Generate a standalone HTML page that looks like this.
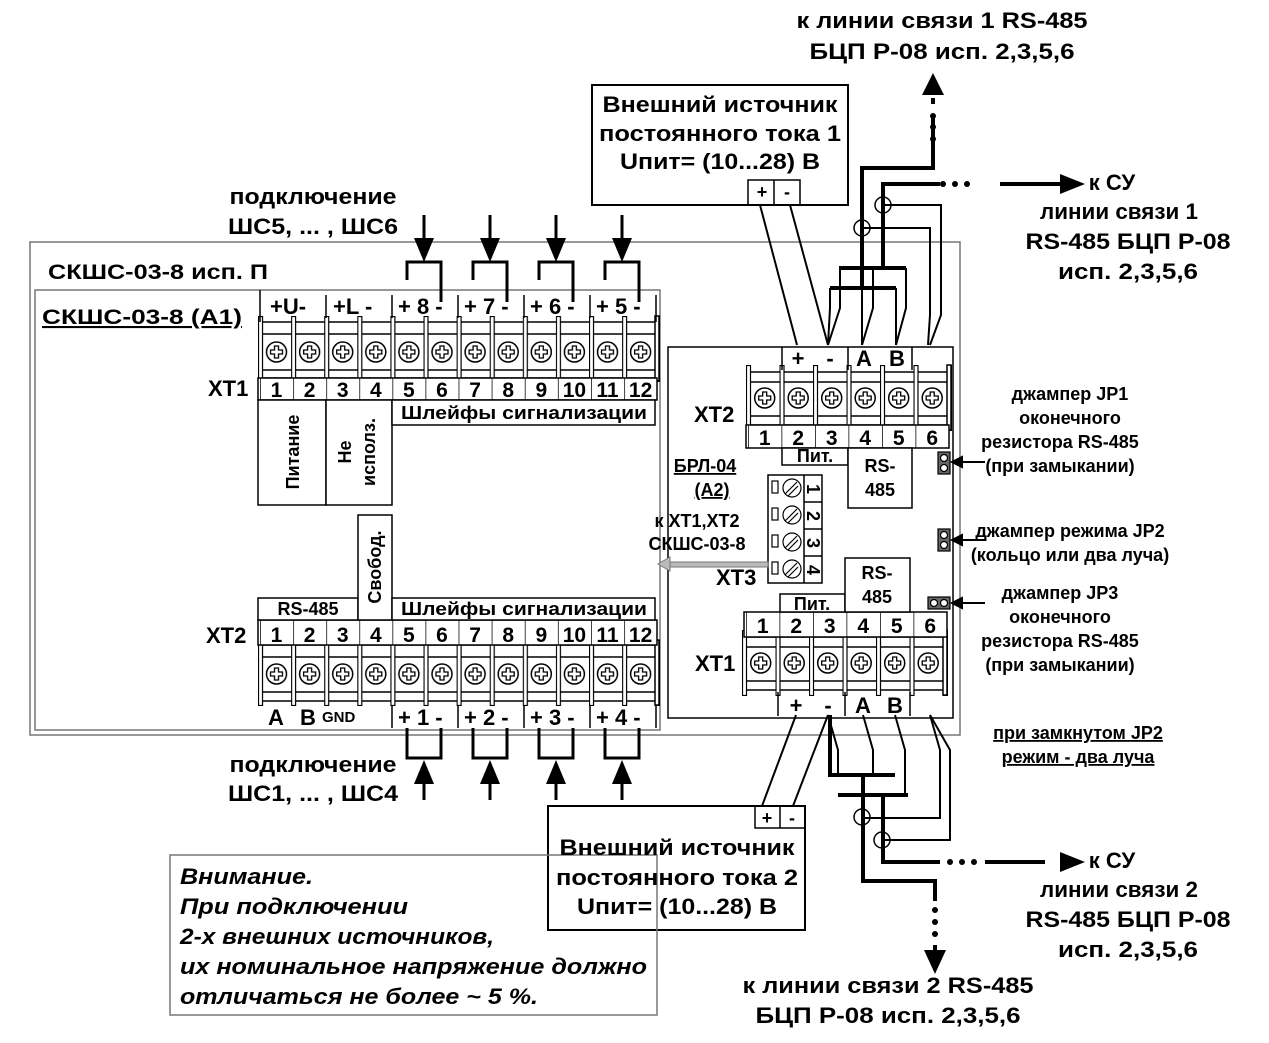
<!DOCTYPE html>
<html><head><meta charset="utf-8"><style>
body{margin:0;background:#fff}
svg{display:block}
text{font-family:"Liberation Sans",sans-serif;font-weight:bold;fill:#000}
</style></head><body>
<svg width="1269" height="1043" viewBox="0 0 1269 1043" xmlns="http://www.w3.org/2000/svg">
<defs>
<g id="scr"><circle r="10" fill="#fff" stroke="#000" stroke-width="1.5"/><path d="M-6,-2h4v-4h4v4h4v4h-4v4h-4v-4h-4z" fill="none" stroke="#000" stroke-width="1.3"/></g>
<pattern id="pA" patternUnits="userSpaceOnUse" x="258" y="316" width="33.1" height="66"><rect x="0.5" y="0.5" width="4" height="65" fill="#fff" stroke="#000" stroke-width="1.2"/><use href="#scr" x="18.5" y="36"/></pattern>
<pattern id="pB" patternUnits="userSpaceOnUse" x="258" y="640" width="33.1" height="66"><rect x="0.5" y="0.5" width="4" height="65" fill="#fff" stroke="#000" stroke-width="1.2"/><use href="#scr" x="18.5" y="34"/></pattern>
<pattern id="pC" patternUnits="userSpaceOnUse" x="746" y="365" width="33.5" height="66"><rect x="0.5" y="0.5" width="4" height="65" fill="#fff" stroke="#000" stroke-width="1.2"/><use href="#scr" x="18.7" y="33"/></pattern>
<pattern id="pD" patternUnits="userSpaceOnUse" x="742" y="630" width="33.5" height="66"><rect x="0.5" y="0.5" width="4" height="65" fill="#fff" stroke="#000" stroke-width="1.2"/><use href="#scr" x="18.7" y="33"/></pattern>
<pattern id="nL" patternUnits="userSpaceOnUse" x="260" y="0" width="33.1" height="50"><line x1="0" y1="0" x2="0" y2="50" stroke="#000" stroke-width="1.5"/></pattern>
<pattern id="nR" patternUnits="userSpaceOnUse" x="748" y="0" width="33.5" height="50"><line x1="0" y1="0" x2="0" y2="50" stroke="#000" stroke-width="1.5"/></pattern>
<pattern id="nR2" patternUnits="userSpaceOnUse" x="746" y="0" width="33.5" height="50"><line x1="0" y1="0" x2="0" y2="50" stroke="#000" stroke-width="1.5"/></pattern>
</defs>
<g fill="none" stroke="#000" stroke-width="1.5">
<rect x="30" y="242" width="930" height="493" stroke="#777"/>
<rect x="35" y="290" width="625" height="440" stroke="#777"/>
<rect x="668" y="347" width="285" height="371"/>
<rect x="592" y="85" width="256" height="120" stroke-width="2"/>
<rect x="548" y="806" width="257" height="124" stroke-width="2"/>
<rect x="170" y="855" width="487" height="160" stroke="#777"/>
</g>
<text x="48" y="279" font-size="21" textLength="220" lengthAdjust="spacingAndGlyphs">СКШС-03-8 исп. П</text>
<text x="42" y="324" font-size="21" text-decoration="underline" textLength="200" lengthAdjust="spacingAndGlyphs">СКШС-03-8  (А1)</text>
<g stroke="#000" stroke-width="1.5" fill="#fff">
<rect x="260" y="322" width="397" height="56"/>
<rect x="260" y="645" width="397" height="56"/>
<rect x="748" y="372" width="201" height="53"/>
<rect x="744" y="637" width="203" height="53"/>
</g>
<g stroke="#000" stroke-width="1.5">
<line x1="260" y1="334" x2="657" y2="334"/><line x1="260" y1="370" x2="657" y2="370"/>
<line x1="260" y1="657" x2="657" y2="657"/><line x1="260" y1="692" x2="657" y2="692"/>
<line x1="748" y1="382" x2="949" y2="382"/><line x1="748" y1="416" x2="949" y2="416"/>
<line x1="744" y1="647" x2="947" y2="647"/><line x1="744" y1="681" x2="947" y2="681"/>
</g>
<rect x="258" y="316" width="402" height="66" fill="url(#pA)"/>
<rect x="258" y="640" width="402" height="66" fill="url(#pB)"/>
<rect x="746" y="365" width="206" height="66" fill="url(#pC)"/>
<rect x="742" y="630" width="206" height="66" fill="url(#pD)"/>
<g stroke="#000" stroke-width="1.5" fill="#fff">
<rect x="655" y="316" width="4" height="65"/><rect x="655" y="640" width="4" height="65"/>
<rect x="947" y="365" width="4" height="65"/><rect x="943" y="630" width="4" height="65"/>
</g>
<g stroke="#000" stroke-width="1.5" fill="#fff">
<rect x="258" y="378" width="399" height="22"/>
<rect x="258" y="400" width="68" height="105"/>
<rect x="326" y="400" width="66" height="105"/>
<rect x="392" y="400" width="263" height="25"/>
<rect x="258" y="620" width="399" height="25"/>
<rect x="258" y="598" width="100" height="22"/>
<rect x="358" y="515" width="34" height="105"/>
<rect x="392" y="598" width="263" height="22"/>
<rect x="746" y="425" width="203" height="23"/>
<rect x="744" y="612" width="203" height="25"/>
</g>
<rect x="260" y="378" width="397" height="22" fill="url(#nL)"/>
<rect x="260" y="620" width="397" height="25" fill="url(#nL)"/>
<rect x="748" y="425" width="201" height="23" fill="url(#nR)"/>
<rect x="746" y="612" width="201" height="25" fill="url(#nR2)"/>
<g stroke="#000" stroke-width="1.5">
<line x1="260" y1="290" x2="260" y2="322"/><line x1="326" y1="295" x2="326" y2="318"/><line x1="392" y1="295" x2="392" y2="318"/><line x1="458" y1="295" x2="458" y2="318"/><line x1="524" y1="295" x2="524" y2="318"/><line x1="590" y1="295" x2="590" y2="318"/><line x1="656" y1="295" x2="656" y2="322"/>
<line x1="392" y1="705" x2="392" y2="728"/><line x1="458" y1="705" x2="458" y2="728"/><line x1="524" y1="705" x2="524" y2="728"/><line x1="590" y1="705" x2="590" y2="728"/><line x1="656" y1="705" x2="656" y2="728"/>
</g>
<g font-size="21" text-anchor="middle">
<text x="276.5" y="397">1</text><text x="309.6" y="397">2</text><text x="342.7" y="397">3</text><text x="375.8" y="397">4</text><text x="408.9" y="397">5</text><text x="442" y="397">6</text><text x="475.1" y="397">7</text><text x="508.2" y="397">8</text><text x="541.3" y="397">9</text><text x="574.4" y="397">10</text><text x="607.5" y="397">11</text><text x="640.6" y="397">12</text>
<text x="276.5" y="642">1</text><text x="309.6" y="642">2</text><text x="342.7" y="642">3</text><text x="375.8" y="642">4</text><text x="408.9" y="642">5</text><text x="442" y="642">6</text><text x="475.1" y="642">7</text><text x="508.2" y="642">8</text><text x="541.3" y="642">9</text><text x="574.4" y="642">10</text><text x="607.5" y="642">11</text><text x="640.6" y="642">12</text>
<text x="764.7" y="445">1</text><text x="798.2" y="445">2</text><text x="831.7" y="445">3</text><text x="865.2" y="445">4</text><text x="898.7" y="445">5</text><text x="932.2" y="445">6</text>
<text x="762.7" y="633">1</text><text x="796.2" y="633">2</text><text x="829.7" y="633">3</text><text x="863.2" y="633">4</text><text x="896.7" y="633">5</text><text x="930.2" y="633">6</text>
</g>
<g fill="none" stroke="#000" stroke-width="1.5">
<rect x="782" y="448" width="66" height="17" fill="#fff"/><rect x="848" y="448" width="64" height="60" fill="#fff"/>
<line x1="782" y1="347" x2="782" y2="370"/><line x1="848" y1="347" x2="848" y2="370"/><line x1="912" y1="347" x2="912" y2="370"/>
<rect x="780" y="594" width="65" height="18" fill="#fff"/><rect x="845" y="558" width="65" height="54" fill="#fff"/>
<line x1="778" y1="692" x2="778" y2="716"/><line x1="845" y1="692" x2="845" y2="716"/><line x1="910" y1="692" x2="910" y2="716"/>
<rect x="768" y="475" width="54" height="108"/><line x1="804" y1="475" x2="804" y2="583"/><line x1="804" y1="502" x2="822" y2="502"/><line x1="804" y1="529" x2="822" y2="529"/><line x1="804" y1="556" x2="822" y2="556"/>
<rect x="748" y="180" width="52" height="25"/><line x1="774" y1="180" x2="774" y2="205"/>
<rect x="755" y="806" width="50" height="22"/><line x1="780" y1="806" x2="780" y2="828"/>
</g>
<g stroke="#000" stroke-width="1.2" fill="#fff">
<rect x="772" y="481" width="6" height="12"/><rect x="772" y="508" width="6" height="12"/><rect x="772" y="535" width="6" height="12"/><rect x="772" y="562" width="6" height="12"/>
<circle cx="792" cy="488" r="9"/><circle cx="792" cy="515" r="9"/><circle cx="792" cy="542" r="9"/><circle cx="792" cy="569" r="9"/>
<path d="M785,494l12,-12M788,496l10,-10M785,521l12,-12M788,523l10,-10M785,548l12,-12M788,550l10,-10M785,575l12,-12M788,577l10,-10" fill="none"/>
<rect x="938" y="452" width="12" height="22" fill="#666"/><circle cx="944" cy="458" r="3.5"/><circle cx="944" cy="468" r="3.5"/>
<rect x="938" y="529" width="12" height="22" fill="#666"/><circle cx="944" cy="535" r="3.5"/><circle cx="944" cy="545" r="3.5"/>
<rect x="928" y="597" width="22" height="12" fill="#666"/><circle cx="934" cy="603" r="3.5"/><circle cx="944" cy="603" r="3.5"/>
</g>
<g font-size="18">
<text x="811" y="497" text-anchor="middle" transform="rotate(90 813 491)">1</text>
<text x="811" y="524" text-anchor="middle" transform="rotate(90 813 518)">2</text>
<text x="811" y="551" text-anchor="middle" transform="rotate(90 813 545)">3</text>
<text x="811" y="578" text-anchor="middle" transform="rotate(90 813 572)">4</text>
</g>
<g font-size="22">
<text x="270" y="314">+U-</text><text x="333" y="314">+L -</text><text x="398" y="314">+ 8 -</text><text x="464" y="314">+ 7 -</text><text x="530" y="314">+ 6 -</text><text x="596" y="314">+ 5 -</text>
<text x="398" y="725">+ 1 -</text><text x="464" y="725">+ 2 -</text><text x="530" y="725">+ 3 -</text><text x="596" y="725">+ 4 -</text>
<text x="268" y="725">A</text><text x="300" y="725">B</text>
<text x="208" y="396">XT1</text><text x="206" y="643">XT2</text>
<text x="694" y="422">XT2</text><text x="695" y="671">XT1</text><text x="716" y="585">XT3</text>
</g>
<text x="322" y="722" font-size="15">GND</text>
<g font-size="18">
<text x="524" y="419" text-anchor="middle" textLength="246" lengthAdjust="spacingAndGlyphs">Шлейфы сигнализации</text>
<text x="524" y="615" text-anchor="middle" textLength="246" lengthAdjust="spacingAndGlyphs">Шлейфы сигнализации</text>
<text x="308" y="615" text-anchor="middle">RS-485</text>
<text transform="translate(299 452) rotate(-90)" text-anchor="middle">Питание</text>
<text transform="translate(351 452) rotate(-90)" text-anchor="middle">Не</text>
<text transform="translate(375 452) rotate(-90)" text-anchor="middle">исполз.</text>
<text transform="translate(381 567) rotate(-90)" text-anchor="middle">Свобод.</text>
<text x="815" y="462" text-anchor="middle">Пит.</text><text x="812" y="610" text-anchor="middle">Пит.</text>
<text x="880" y="472" text-anchor="middle">RS-</text><text x="880" y="496" text-anchor="middle">485</text>
<text x="877" y="579" text-anchor="middle">RS-</text><text x="877" y="603" text-anchor="middle">485</text>
<text x="705" y="472" text-decoration="underline" text-anchor="middle">БРЛ-04</text>
<text x="712" y="496" text-decoration="underline" text-anchor="middle">(А2)</text>
<text x="697" y="527" text-anchor="middle">к XT1,XT2</text>
<text x="697" y="550" text-anchor="middle">СКШС-03-8</text>
</g>
<g font-size="22">
<text x="798" y="366" text-anchor="middle">+</text><text x="830" y="366" text-anchor="middle">-</text><text x="864" y="366" text-anchor="middle">A</text><text x="897" y="366" text-anchor="middle">B</text>
<text x="796" y="713" text-anchor="middle">+</text><text x="828" y="713" text-anchor="middle">-</text><text x="863" y="713" text-anchor="middle">A</text><text x="895" y="713" text-anchor="middle">B</text>
<text x="762" y="198" text-anchor="middle" font-size="18">+</text><text x="787" y="198" text-anchor="middle" font-size="18">-</text>
<text x="767" y="824" text-anchor="middle" font-size="18">+</text><text x="792" y="824" text-anchor="middle" font-size="18">-</text>
</g>
<g font-size="22" text-anchor="middle" lengthAdjust="spacingAndGlyphs">
<text x="720" y="112" textLength="235" lengthAdjust="spacingAndGlyphs">Внешний источник</text><text x="720" y="141" textLength="242" lengthAdjust="spacingAndGlyphs">постоянного тока 1</text><text x="720" y="169" textLength="200" lengthAdjust="spacingAndGlyphs">Uпит= (10...28) В</text>
<text x="677" y="855" textLength="235" lengthAdjust="spacingAndGlyphs">Внешний источник</text><text x="677" y="885" textLength="242" lengthAdjust="spacingAndGlyphs">постоянного тока 2</text><text x="677" y="914" textLength="200" lengthAdjust="spacingAndGlyphs">Uпит= (10...28) В</text>
<text x="942" y="28" textLength="291" lengthAdjust="spacingAndGlyphs">к линии связи 1 RS-485</text><text x="942" y="59" textLength="265" lengthAdjust="spacingAndGlyphs">БЦП Р-08 исп. 2,3,5,6</text>
<text x="888" y="993" textLength="291" lengthAdjust="spacingAndGlyphs">к линии связи 2 RS-485</text><text x="888" y="1023" textLength="265" lengthAdjust="spacingAndGlyphs">БЦП Р-08 исп. 2,3,5,6</text>
<text x="1112" y="190">к СУ</text><text x="1119" y="219" textLength="158" lengthAdjust="spacingAndGlyphs">линии связи 1</text><text x="1128" y="249" textLength="205" lengthAdjust="spacingAndGlyphs">RS-485 БЦП Р-08</text><text x="1128" y="279" textLength="140" lengthAdjust="spacingAndGlyphs">исп. 2,3,5,6</text>
<text x="1112" y="868">к СУ</text><text x="1119" y="897" textLength="158" lengthAdjust="spacingAndGlyphs">линии связи 2</text><text x="1128" y="927" textLength="205" lengthAdjust="spacingAndGlyphs">RS-485 БЦП Р-08</text><text x="1128" y="957" textLength="140" lengthAdjust="spacingAndGlyphs">исп. 2,3,5,6</text>
<text x="313" y="204" textLength="167" lengthAdjust="spacingAndGlyphs">подключение</text><text x="313" y="234" textLength="170" lengthAdjust="spacingAndGlyphs">ШС5, ... , ШС6</text>
<text x="313" y="772" textLength="167" lengthAdjust="spacingAndGlyphs">подключение</text><text x="313" y="801" textLength="170" lengthAdjust="spacingAndGlyphs">ШС1, ... , ШС4</text>
</g>
<g font-size="18" text-anchor="middle">
<text x="1070" y="400">джампер JP1</text><text x="1070" y="424">оконечного</text><text x="1060" y="448">резистора RS-485</text><text x="1060" y="472">(при замыкании)</text>
<text x="1070" y="537">джампер режима JP2</text><text x="1070" y="561">(кольцо или два луча)</text>
<text x="1060" y="599">джампер JP3</text><text x="1060" y="623">оконечного</text><text x="1060" y="647">резистора RS-485</text><text x="1060" y="671">(при замыкании)</text>
<text x="1078" y="739" text-decoration="underline">при замкнутом JP2</text><text x="1078" y="763" text-decoration="underline">режим - два луча</text>
</g>
<g font-size="22" font-style="italic">
<text x="180" y="884" textLength="133" lengthAdjust="spacingAndGlyphs">Внимание.</text><text x="180" y="914" textLength="228" lengthAdjust="spacingAndGlyphs">При подключении</text><text x="180" y="944" textLength="314" lengthAdjust="spacingAndGlyphs">2-х внешних источников,</text><text x="180" y="974" textLength="467" lengthAdjust="spacingAndGlyphs">их номинальное напряжение должно</text><text x="180" y="1004" textLength="358" lengthAdjust="spacingAndGlyphs">отличаться не более ~ 5 %.</text>
</g>
<g stroke="#000" stroke-width="2" fill="#000">
<line x1="985" y1="462" x2="955" y2="462"/><path d="M952,462l10,-5v10z"/>
<line x1="985" y1="540" x2="955" y2="540"/><path d="M952,540l10,-5v10z"/>
<line x1="985" y1="603" x2="955" y2="603"/><path d="M952,603l10,-5v10z"/>
</g>
<g><rect x="668" y="562" width="100" height="5" fill="#bbb" stroke="#777"/><path d="M658,564l12,-7v14z" fill="#bbb" stroke="#777"/></g>
<g stroke="#000" stroke-width="3" fill="none">
<path d="M407,280v-18h34v40"/><path d="M473,280v-18h34v40"/><path d="M539,280v-18h34v40"/><path d="M605,280v-18h34v40"/>
<path d="M407,728v30h34v-30"/><path d="M473,728v30h34v-30"/><path d="M539,728v30h34v-30"/><path d="M605,728v30h34v-30"/>
<line x1="424" y1="215" x2="424" y2="250"/><line x1="490" y1="215" x2="490" y2="250"/><line x1="556" y1="215" x2="556" y2="250"/><line x1="622" y1="215" x2="622" y2="250"/>
<line x1="424" y1="775" x2="424" y2="800"/><line x1="490" y1="775" x2="490" y2="800"/><line x1="556" y1="775" x2="556" y2="800"/><line x1="622" y1="775" x2="622" y2="800"/>
</g>
<g fill="#000">
<path d="M414,238h20l-10,24z"/><path d="M480,238h20l-10,24z"/><path d="M546,238h20l-10,24z"/><path d="M612,238h20l-10,24z"/>
<path d="M414,784h20l-10,-24z"/><path d="M480,784h20l-10,-24z"/><path d="M546,784h20l-10,-24z"/><path d="M612,784h20l-10,-24z"/>
</g>
<g stroke="#000" stroke-width="2" fill="none">
<line x1="760" y1="205" x2="797" y2="345"/><line x1="790" y1="205" x2="828" y2="345"/>
<path d="M830,288v20l-2,37M840,268v40l-12,37"/>
<path d="M862,288v20l0,37M873,268v40l-11,37"/>
<path d="M896,288v20l0,37M906,268v40l-10,37"/>
<path d="M862,228h68v87l-2,30"/><path d="M883,205h58v110l-11,30"/>
</g>
<g stroke="#000" stroke-width="4" fill="none">
<path d="M839,268h67"/><path d="M830,288h66"/>
<path d="M862,290v-122h71v-50"/><path d="M933,104v-6"/>
<path d="M883,268v-84h57"/><path d="M1000,184h60"/>
</g>
<g fill="#000"><circle cx="933" cy="116" r="3"/><circle cx="933" cy="127" r="3"/><circle cx="933" cy="139" r="3"/><circle cx="943" cy="184" r="3"/><circle cx="955" cy="184" r="3"/><circle cx="967" cy="184" r="3"/>
<path d="M922,95h22l-11,-22z"/><path d="M1060,174v20l25,-10z"/></g>
<g fill="none" stroke="#000" stroke-width="1.5"><circle cx="883" cy="205" r="8"/><circle cx="862" cy="228" r="8"/></g>
<g stroke="#000" stroke-width="2" fill="none">
<line x1="796" y1="715" x2="762" y2="806"/><line x1="828" y1="715" x2="793" y2="806"/>
<path d="M828,715l10,35v25M863,715l10,35v25M895,715l10,35v45M930,715l10,35v68h-78M930,715l20,35v90h-68"/>
</g>
<g stroke="#000" stroke-width="4" fill="none">
<path d="M830,715v60h65"/><path d="M838,795h70"/><path d="M863,775v106h72v20"/><path d="M883,795v67h57"/><path d="M935,945v8"/><path d="M985,862h60"/>
</g>
<g fill="#000"><circle cx="935" cy="910" r="3"/><circle cx="935" cy="922" r="3"/><circle cx="935" cy="934" r="3"/><circle cx="950" cy="862" r="3"/><circle cx="962" cy="862" r="3"/><circle cx="974" cy="862" r="3"/>
<path d="M924,950h22l-11,24z"/><path d="M1060,852v20l25,-10z"/></g>
<g fill="none" stroke="#000" stroke-width="1.5"><circle cx="862" cy="817" r="8"/><circle cx="882" cy="840" r="8"/></g>
</svg>
</body></html>
